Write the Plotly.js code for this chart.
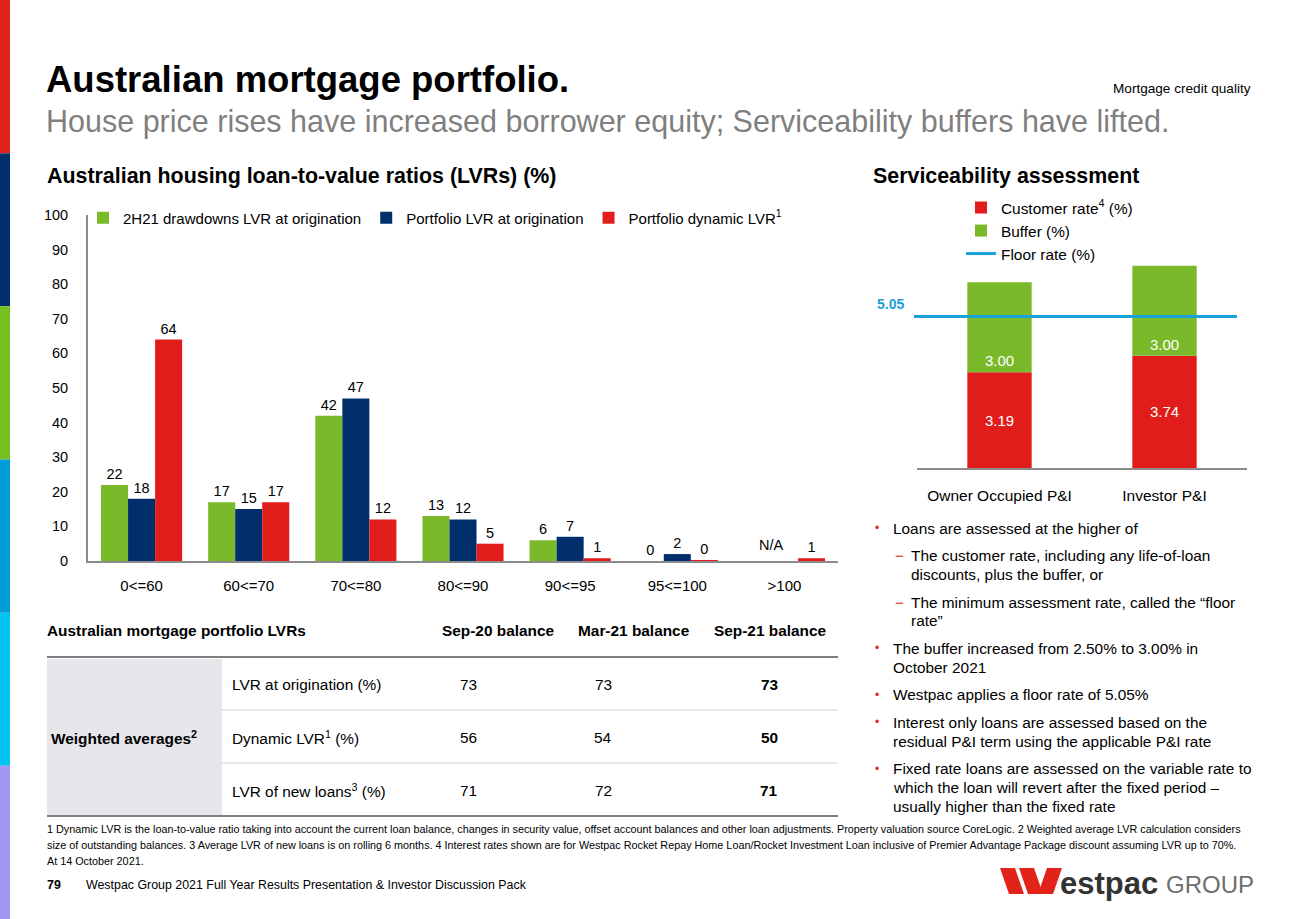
<!DOCTYPE html>
<html><head><meta charset="utf-8">
<script src="https://cdn.plot.ly/plotly-3.0.1.min.js"></script>
<style>html,body{margin:0;padding:0;background:#fff;} #chart{width:1300px;height:919px;}</style>
</head><body><div id="chart"></div>
<script>
// ---------------- DATA ----------------
const lvrBands = ['0<=60','60<=70','70<=80','80<=90','90<=95','95<=100','>100'];
const drawdowns2H21 = [22,17,42,13,6,0,null];
const portfolioOrigination = [18,15,47,12,7,2,null];
const portfolioDynamic = [64,17,12,5,0.8,0.3,0.8];
const naLabel = 'N/A';
const leftSeriesNames = ['2H21 drawdowns LVR at origination','Portfolio LVR at origination','Portfolio dynamic LVR<sup>1</sup>'];

const loanTypes = ['Owner Occupied P&I','Investor P&I'];
const customerRate = [3.19,3.74];
const buffer = [3.00,3.00];
const floorRate = 5.05;
const rightSeriesNames = ['Customer rate<sup>4</sup> (%)','Buffer (%)','Floor rate (%)'];

const tableHeader = ['Australian mortgage portfolio LVRs','Sep-20 balance','Mar-21 balance','Sep-21 balance'];
const tableGroup = 'Weighted averages<sup>2</sup>';
const tableRows = ['LVR at origination (%)','Dynamic LVR<sup>1</sup> (%)','LVR of new loans<sup>3</sup> (%)'];
const sep20 = [73,56,71];
const mar21 = [73,54,72];
const sep21 = [73,50,71];

const bullets = [
  {lvl:0, lines:['Loans are assessed at the higher of']},
  {lvl:1, lines:['The customer rate, including any life-of-loan','discounts, plus the buffer, or']},
  {lvl:1, lines:['The minimum assessment rate, called the \u201cfloor','rate\u201d']},
  {lvl:0, lines:['The buffer increased from 2.50% to 3.00% in','October 2021']},
  {lvl:0, lines:['Westpac applies a floor rate of 5.05%']},
  {lvl:0, lines:['Interest only loans are assessed based on the','residual P&I term using the applicable P&I rate']},
  {lvl:0, lines:['Fixed rate loans are assessed on the variable rate to','which the loan will revert after the fixed period \u2013','usually higher than the fixed rate']}
];
const footnotes = [
  '1 Dynamic LVR is the loan-to-value ratio taking into account the current loan balance, changes in security value, offset account balances and other loan adjustments. Property valuation source CoreLogic. 2 Weighted average LVR calculation considers',
  'size of outstanding balances. 3 Average LVR of new loans is on rolling 6 months. 4 Interest rates shown are for Westpac Rocket Repay Home Loan/Rocket Investment Loan inclusive of Premier Advantage Package discount assuming LVR up to 70%.',
  'At 14 October 2021.'
];

// ---------------- STYLE ----------------
const W = 1300, H = 919;
const px = x => x / W;
const py = y => 1 - y / H;
const FONT = 'Liberation Sans, Arial, sans-serif';
const GREEN = '#7AB929', NAVY = '#002F6C', RED = '#E01D1A', BLUE = '#1BA1DA', AXIS = '#8C8C8C';
const stripeColors = ['#E2231A','#002F6C','#78BE20','#009DD6','#00C3F0','#A297F0'];
const BODY = 15.4;

const traces = [];
const leftVals = [drawdowns2H21, portfolioOrigination, portfolioDynamic];
const leftColors = [GREEN, NAVY, RED];
leftVals.forEach((v, i) => traces.push({
  type:'bar', x:lvrBands, y:v, name:leftSeriesNames[i], marker:{color:leftColors[i]},
  texttemplate:'%{y:.0f}', textposition:'outside', textfont:{size:14.5, color:'#000', family:FONT},
  cliponaxis:false, xaxis:'x', yaxis:'y', legend:'legend', hoverinfo:'x+y'
}));
traces.push({
  type:'bar', x:loanTypes, y:customerRate, name:rightSeriesNames[0], marker:{color:RED},
  texttemplate:'%{y:.2f}', textposition:'inside', insidetextanchor:'middle',
  textfont:{size:15, color:'#fff', family:FONT}, width:0.39, offsetgroup:'svc',
  xaxis:'x2', yaxis:'y2', legend:'legend2'
});
traces.push({
  type:'bar', x:loanTypes, y:buffer, base:customerRate, name:rightSeriesNames[1], marker:{color:GREEN},
  texttemplate:'%{y:.2f}', textposition:'inside', insidetextanchor:'start',
  textfont:{size:15, color:'#fff', family:FONT}, width:0.39, offsetgroup:'svc',
  xaxis:'x2', yaxis:'y2', legend:'legend2'
});
traces.push({
  type:'scatter', mode:'lines', x:[null], y:[null], name:rightSeriesNames[2],
  line:{color:BLUE, width:3}, xaxis:'x2', yaxis:'y2', legend:'legend2'
});

// ---------------- SHAPES ----------------
const shapes = [];
stripeColors.forEach((c, i) => shapes.push({type:'rect', xref:'paper', yref:'paper',
  x0:px(0), x1:px(10), y0:py(i*H/6), y1:py((i+1)*H/6), fillcolor:c, line:{width:0}, layer:'below'}));
shapes.push({type:'line', xref:'paper', yref:'y2', x0:px(914), x1:px(1237), y0:floorRate, y1:floorRate,
  line:{color:BLUE, width:3}});
shapes.push({type:'rect', xref:'paper', yref:'paper', x0:px(47), x1:px(222), y0:py(659), y1:py(815),
  fillcolor:'#E7E6EA', line:{width:0}, layer:'below'});
shapes.push({type:'line', xref:'paper', yref:'paper', x0:px(47), x1:px(838), y0:py(657), y1:py(657), line:{color:'#7F7F7F', width:2}});
shapes.push({type:'line', xref:'paper', yref:'paper', x0:px(47), x1:px(838), y0:py(816), y1:py(816), line:{color:'#7F7F7F', width:2}});
[710, 763].forEach(y => shapes.push({type:'line', xref:'paper', yref:'paper', x0:px(222), x1:px(838), y0:py(y), y1:py(y), line:{color:'#D4D4D4', width:1}}));
const poly = pts => 'M' + pts.map(p => px(p[0]) + ',' + py(p[1])).join('L') + 'Z';
[
  [[1000,868],[1015,868],[1024,894],[1009,894]],
  [[1019,868],[1034,868],[1043,894],[1028,894]],
  [[1047,868],[1062,868],[1053,894],[1038,894]]
].forEach(p => shapes.push({type:'path', xref:'paper', yref:'paper', path:poly(p), fillcolor:'#E2231A', line:{width:0}}));

// ---------------- ANNOTATIONS ----------------
const annotations = [];
const ann = (text, x, y, o={}) => annotations.push(Object.assign({
  text, x:px(x), y:py(y), xref:'paper', yref:'paper', showarrow:false,
  xanchor:'left', yanchor:'middle', font:{family:FONT, size:BODY, color:'#000'}
}, o));
ann('<b>Australian mortgage portfolio.</b>', 44, 79, {font:{family:FONT, size:36.5, color:'#000'}});
ann('House price rises have increased borrower equity; Serviceability buffers have lifted.', 44, 121, {font:{family:FONT, size:30.5, color:'#7F7F7F'}});
ann('Mortgage credit quality', 1253, 88, {xanchor:'right', font:{family:FONT, size:13.6, color:'#000'}});
ann('<b>Australian housing loan-to-value ratios (LVRs) (%)</b>', 45, 176, {font:{family:FONT, size:21.4, color:'#000'}});
ann('<b>Serviceability assessment</b>', 871, 176, {font:{family:FONT, size:21.4, color:'#000'}});

annotations.push({text:naLabel, x:lvrBands[6], y:0, xref:'x', yref:'y', xshift:-13, yshift:16, showarrow:false,
  font:{family:FONT, size:14.5, color:'#000'}});
annotations.push({text:'<b>' + floorRate.toFixed(2) + '</b>', x:px(906), xref:'paper', y:floorRate, yref:'y2', yshift:13,
  xanchor:'right', showarrow:false, font:{family:FONT, size:14, color:BLUE}});

let by = 528;
bullets.forEach((b, bi) => {
  if (bi > 0) by += 27.6;
  const mx = b.lvl === 0 ? 873 : 893;
  const tx = b.lvl === 0 ? 891 : 909;
  ann(b.lvl === 0 ? '\u2022' : '\u2212', mx, by, {font:{family:FONT, size:b.lvl===0?12:15, color:'#E2231A'}});
  b.lines.forEach((l, li) => {
    if (li > 0) by += 18.8;
    ann(l, tx, by);
  });
});

ann('<b>' + tableHeader[0] + '</b>', 45, 630);
[498, 634, 770].forEach((x, i) => ann('<b>' + tableHeader[i+1] + '</b>', x, 630, {xanchor:'center'}));
ann('<b>' + tableGroup + '</b>', 49, 737);
tableRows.forEach((r, i) => {
  const y = 684 + i * 53;
  ann(r, 230, y);
  ann(String(sep20[i]), 468, y, {xanchor:'center'});
  ann(String(mar21[i]), 603, y, {xanchor:'center'});
  ann('<b>' + sep21[i] + '</b>', 769, y, {xanchor:'center'});
});

footnotes.forEach((f, i) => ann(f, 45, 829 + i * 16, {font:{family:FONT, size:10.8, color:'#000'}}));
ann('<b>79</b>', 45, 885, {font:{family:FONT, size:12.4, color:'#000'}});
ann('Westpac Group 2021 Full Year Results Presentation & Investor Discussion Pack', 84, 885, {font:{family:FONT, size:12.4, color:'#000'}});
ann('<b>estpac</b>', 1058, 883, {font:{family:FONT, size:31, color:'#333333'}});
ann('GROUP', 1164, 884, {font:{family:FONT, size:24, color:'#6E6E6E'}});

const layout = {
  width:W, height:H, margin:{l:0, r:0, t:0, b:0},
  paper_bgcolor:'#fff', plot_bgcolor:'rgba(0,0,0,0)',
  font:{family:FONT, size:14, color:'#000'},
  barmode:'group', bargap:0.243, bargroupgap:0,
  xaxis:{domain:[px(88), px(838)], anchor:'y', type:'category', showline:true, linecolor:AXIS, linewidth:2,
    ticks:'outside', ticklen:10, tickcolor:'rgba(0,0,0,0)', tickfont:{size:15}, showgrid:false, zeroline:false, fixedrange:true},
  yaxis:{domain:[py(561), py(215)], anchor:'x', range:[0,100], dtick:10, showline:true, linecolor:AXIS, linewidth:2,
    ticks:'outside', ticklen:15, tickcolor:'rgba(0,0,0,0)', tickfont:{size:14.5}, showgrid:false, zeroline:false, fixedrange:true},
  xaxis2:{domain:[px(917), px(1247)], anchor:'y2', type:'category', showline:true, linecolor:AXIS, linewidth:2,
    ticks:'outside', ticklen:12, tickcolor:'rgba(0,0,0,0)', tickfont:{size:15.5}, showgrid:false, zeroline:false, fixedrange:true},
  yaxis2:{domain:[py(468), py(189)], anchor:'x2', range:[0,9.3], visible:false, fixedrange:true},
  legend:{orientation:'h', x:px(83), y:py(218), xanchor:'left', yanchor:'middle', font:{size:15}, bgcolor:'rgba(0,0,0,0)'},
  legend2:{orientation:'v', x:px(961), y:py(191), xanchor:'left', yanchor:'top', traceorder:'normal', font:{size:BODY}, bgcolor:'rgba(0,0,0,0)'},
  shapes, annotations, showlegend:true
};
Plotly.newPlot('chart', traces, layout, {displayModeBar:false, staticPlot:true});
</script></body></html>
